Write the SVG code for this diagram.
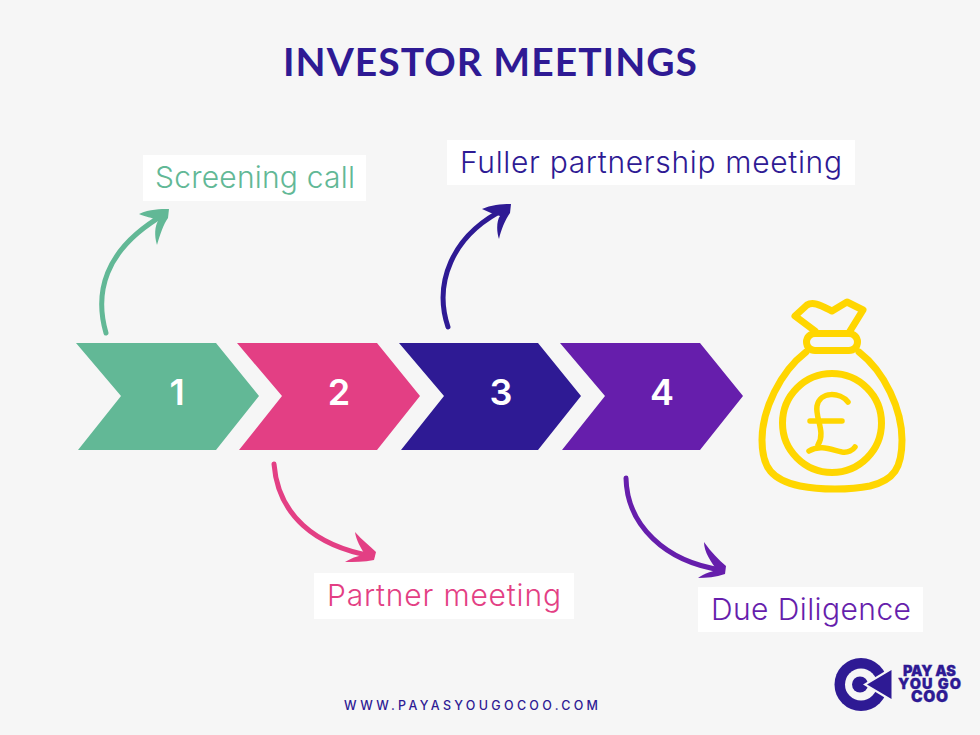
<svg xmlns="http://www.w3.org/2000/svg" width="980" height="735" viewBox="0 0 980 735">
<style>
.lbl{font-family:"Inter","Noto Sans",sans-serif;font-size:30px;font-weight:300}
.num{font-family:"Inter","Noto Sans",sans-serif;font-size:36px;font-weight:600;fill:#fff;text-anchor:middle}
.box{fill:#fff}
.curve{fill:none;stroke-linecap:round;stroke-linejoin:round}
.bag{fill:none;stroke:#ffd600;stroke-width:7;stroke-linecap:round;stroke-linejoin:round}
.logo{font-family:"Inter","Liberation Sans",sans-serif;font-weight:900;font-size:14.500px;fill:#2e1a94;stroke:#2e1a94;stroke-width:.3}
</style>
<rect width="980" height="735" fill="#f6f6f6"/>
<text id="title" x="283" y="76" textLength="414" font-family="'Lato','Noto Sans',sans-serif" font-weight="700" font-size="39" fill="#2e1a94">INVESTOR MEETINGS</text>
<g id="connectors">
<g stroke="#62b896" fill="#62b896"><path class="curve" stroke-width="5" d="M106 333C95 295 102 250 165 214"/><path stroke="none" d="M139 214C150 209 160 209 169 209L168 218C163 225 160 235 157 245C154 235 155 226 158 221C152 217 145 217 139 214Z"/></g>
<g stroke="#e33f84" fill="#e33f84"><path class="curve" stroke-width="5" d="M274 464C278 515 315 546 372 556"/><path stroke="none" d="M355 532C362 540 370 546 376 552L374 560C364 562 354 562 345 562C354 557 360 555 365 555C361 548 356 540 355 532Z"/></g>
<g stroke="#2e1a94" fill="#2e1a94"><path class="curve" stroke-width="5" d="M448 327C434 285 450 235 507 208"/><path stroke="none" d="M482 209C491 205 502 204 511 204L510 213C505 220 501 230 499 239C496 230 497 220 500 216C494 214 488 212 482 209Z"/></g>
<g stroke="#661eac" fill="#661eac"><path class="curve" stroke-width="5" d="M626 478C627 525 665 562 722 570"/><path stroke="none" d="M704 542C711 552 719 560 726 566L725 574C716 577 706 578 698 578C705 573 713 571 717 570C711 562 704 552 704 542Z"/></g>
</g>
<g id="node-1"><path fill="#62b896" d="M76 343H216L259 396 216 450H78L121 396Z"/><text class="num" x="177" y="405">1</text></g>
<g id="node-2"><path fill="#e33f84" d="M237 343H377L420 396 377 450H239L282 396Z"/><text class="num" x="339" y="405">2</text></g>
<g id="node-3"><path fill="#2e1a94" d="M399 343H538L581 396 538 450H401L444 396Z"/><text class="num" x="501" y="405">3</text></g>
<g id="node-4"><path fill="#661eac" d="M560 343H700L743 396 700 450H562L605 396Z"/><text class="num" x="662" y="405">4</text></g>
<g id="label-screening"><rect class="box" x="143" y="155" width="223" height="46"/><text class="lbl" x="155" y="188" textLength="200" fill="#62b896">Screening call</text></g>
<g id="label-fuller"><rect class="box" x="447" y="140" width="408" height="45"/><text class="lbl" x="460" y="173" textLength="382" fill="#2e1a94">Fuller partnership meeting</text></g>
<g id="label-partner"><rect class="box" x="314" y="573" width="260" height="46"/><text class="lbl" x="327" y="606" textLength="234" fill="#e33f84">Partner meeting</text></g>
<g id="label-due"><rect class="box" x="698" y="587" width="225" height="45"/><text class="lbl" x="711" y="620" textLength="200" fill="#661eac">Due Diligence</text></g>
<g id="money-bag">
<path class="bag" d="M815 331L795 316 807 305C813 301 820 305 832 311L847 302 863 310 850 331"/>
<rect class="bag" x="806.500" y="333.500" width="51" height="17" rx="8.500"/>
<path class="bag" d="M806 352C780 372 762 410 762 440C762 468 772 480 800 486C820 490 850 490 870 486C894 480 902 468 902 440C902 410 885 372 859 352"/>
<circle class="bag" cx="832" cy="423" r="49.500"/>
<path class="bag" style="stroke-width:5.500" d="M848 402C840 392 820 391 817 406C815 418 826 432 818 445M810 421H842M809 451C820 444 832 450 842 452C848 453 853 450 855 447"/>
</g>
<g id="logo">
<circle cx="861" cy="684.500" r="26.500" fill="#2e1a94"/>
<circle cx="861" cy="684.500" r="16" fill="#f6f6f6"/>
<circle cx="860" cy="684.500" r="8" fill="#2e1a94"/>
<path fill="#f6f6f6" d="M863 684.500L897 664V705Z"/>
<path fill="#2e1a94" d="M867 684.500L891.500 670V699Z"/>
<text class="logo" x="903" y="676" textLength="53">PAY AS</text>
<text class="logo" x="898" y="689" textLength="63">YOU GO</text>
<text class="logo" x="911" y="702" textLength="37" style="font-size:15.500px">COO</text>
</g>
<text id="footer" x="344" y="710" textLength="254" font-family="'Inter','Noto Sans',sans-serif" font-weight="500" font-size="12.500" fill="#2e1a94">WWW.PAYASYOUGOCOO.COM</text>
</svg>
